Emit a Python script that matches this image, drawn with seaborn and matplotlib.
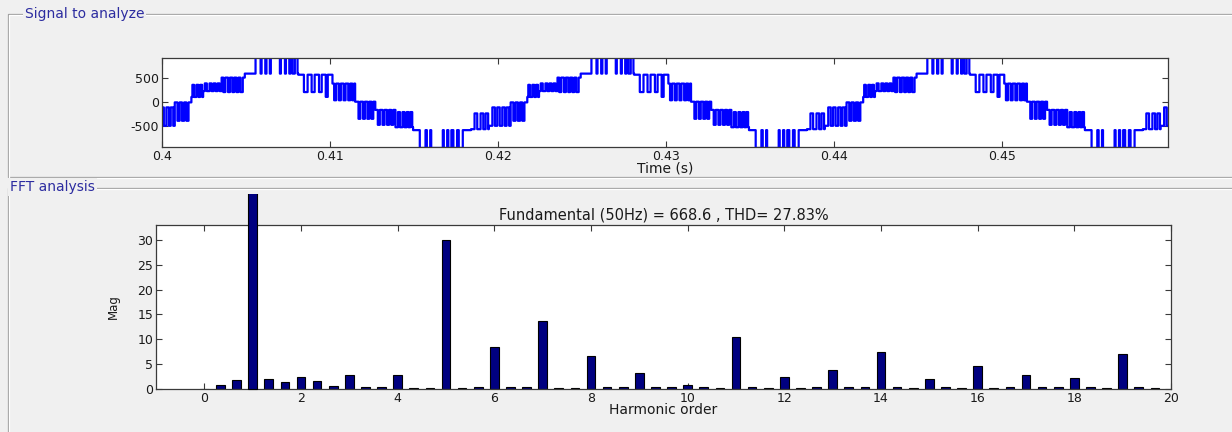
import numpy as np
import pandas as pd
import matplotlib
matplotlib.use("Agg")
import matplotlib.pyplot as plt
import seaborn as sns
from matplotlib.lines import Line2D
from matplotlib.transforms import Bbox, TransformedBbox

# ---------------------------------------------------------------------------
# Inverter output voltage: one period, times in ms from the rising zero crossing
# ---------------------------------------------------------------------------
seg_start = [0.0, 0.50, 1.60, 2.98, 6.16, 8.20, 9.55, 10.75, 11.95, 13.00, 16.45, 17.51, 18.81, 19.80]
seg_base = [98, 220, 500, 583, 560, 376, 0, -170, -530, -590, -570, -500, -14, 98]

# switching pulses: start (ms), width (ms), level (V)
pulse_start = [0.10, 0.32,
               0.60, 0.88, 1.12, 1.36,
               1.70, 1.98, 2.24, 2.48, 2.72,
               3.62, 3.98, 4.27, 4.53, 5.13, 5.43, 5.70, 5.96,
               6.50, 6.96, 7.40, 7.80,
               8.30, 8.58, 8.86, 9.14, 9.38,
               9.75, 10.02, 10.28, 10.52,
               10.90, 11.18, 11.45, 11.70,
               12.10, 12.37, 12.62, 12.84,
               13.40, 13.82, 14.08, 14.83, 15.10, 15.40, 15.72,
               16.66, 17.02, 17.32,
               17.72, 18.01, 18.31, 18.57,
               18.97, 19.24, 19.50,
               19.86]
pulse_width = [0.12, 0.12,
               0.12, 0.12, 0.12, 0.12,
               0.12, 0.12, 0.11, 0.12, 0.14,
               0.30, 0.22, 0.20, 0.54, 0.24, 0.20, 0.12, 0.16,
               0.22, 0.18, 0.16, 0.12,
               0.12, 0.12, 0.12, 0.12, 0.11,
               0.11, 0.11, 0.11, 0.11,
               0.12, 0.12, 0.12, 0.12,
               0.12, 0.12, 0.11, 0.11,
               0.34, 0.20, 0.69, 0.20, 0.18, 0.22, 0.24,
               0.16, 0.16, 0.15,
               0.15, 0.15, 0.15, 0.15,
               0.13, 0.13, 0.13,
               0.10]
pulse_level = [350, 350,
               380, 380, 380, 380,
               200, 200, 200, 200, 200,
               930, 930, 930, 930, 930, 930, 930, 930,
               200, 200, 200, 100,
               30, 30, 30, 30, 30,
               -355, -355, -355, -355,
               -480, -480, -480, -480,
               -215, -215, -215, -215,
               -960, -960, -960, -960, -960, -960, -960,
               -243, -243, -243,
               -118, -118, -118, -118,
               -396, -396, -396,
               350]

cycle_starts = [0.38195, 0.40195, 0.42195, 0.44195]   # s
time_ticks = [0.40, 0.41, 0.42, 0.43, 0.44, 0.45]
volt_ticks = [-500, 0, 500]

# ---------------------------------------------------------------------------
# FFT: magnitude (% of fundamental) at harmonic orders 0, 1/3, 2/3, ...
# ---------------------------------------------------------------------------
fft_mag = [0.1, 0.9, 1.75, 100.0, 2.0, 1.5, 2.35, 1.6, 0.6, 2.75,
           0.35, 0.35, 2.9, 0.3, 0.15, 30.0, 0.3, 0.45, 8.5, 0.45,
           0.35, 13.6, 0.3, 0.15, 6.6, 0.35, 0.45, 3.15, 0.35, 0.45,
           0.8, 0.45, 0.15, 10.4, 0.35, 0.15, 2.35, 0.15, 0.45, 3.75,
           0.35, 0.45, 7.45, 0.45, 0.15, 1.95, 0.45, 0.15, 4.6, 0.15,
           0.45, 2.9, 0.35, 0.45, 2.15, 0.45, 0.15, 7.1, 0.45, 0.15]
harmonic_order = np.arange(len(fft_mag)) / 3.0
order_ticks = list(range(0, 21, 2))
mag_ticks = [0, 5, 10, 15, 20, 25, 30]
fundamental_hz = 50
fundamental_mag = 668.6
thd_pct = 27.83

# ---------------------------------------------------------------------------
# build the step waveform
# ---------------------------------------------------------------------------
def base_at(ms):
    idx = np.searchsorted(seg_start, ms, side="right") - 1
    return seg_base[idx]

events = [(s, b) for s, b in zip(seg_start, seg_base)]
for s, w, lv in zip(pulse_start, pulse_width, pulse_level):
    events.append((s, lv))
    events.append((s + w, base_at(s)))
events.sort(key=lambda e: e[0])

t_all, v_all = [], []
for c in cycle_starts:
    for ms, v in events:
        t_all.append(c + ms / 1000.0)
        v_all.append(v)
t_all.append(cycle_starts[-1] + 0.02)
v_all.append(seg_base[0])
sig = pd.DataFrame({"t": t_all, "v": v_all})
fft = pd.DataFrame({"order": harmonic_order, "mag": fft_mag})

# ---------------------------------------------------------------------------
# styling
# ---------------------------------------------------------------------------
sns.set_theme(style="ticks")
BG = "#F0F0F0"
plt.rcParams.update({
    "font.family": ["DejaVu Sans"],
    "axes.unicode_minus": False,
    "axes.edgecolor": "#3a3a3a",
    "axes.linewidth": 0.9,
    "xtick.direction": "in",
    "ytick.direction": "in",
    "xtick.color": "#3a3a3a",
    "ytick.color": "#3a3a3a",
    "xtick.labelcolor": "#1a1a1a",
    "ytick.labelcolor": "#1a1a1a",
    "xtick.labelsize": 9,
    "ytick.labelsize": 9,
    "axes.labelsize": 10,
    "axes.labelcolor": "#1a1a1a",
    "figure.facecolor": BG,
})

W, H = 1232, 432
fig = plt.figure(figsize=(W / 100, H / 100), dpi=100)


def fx(px):
    return px / W


def fy(py):
    return 1 - py / H


def axes_px(left, top, right, bottom):
    return fig.add_axes([fx(left), fy(bottom), fx(right - left), (bottom - top) / H])


# ---- group box frames -----------------------------------------------------
def etched(xs, ys):
    fig.add_artist(Line2D([fx(x) for x in xs], [fy(y) for y in ys],
                          color="#a0a0a0", lw=0.9))
    fig.add_artist(Line2D([fx(x + 1) for x in xs], [fy(y + 1) for y in ys],
                          color="white", lw=0.9))

etched([1240, 8, 8, 1240], [14, 14, 177, 177])
etched([1240, 8, 8], [188, 188, 440])

label_kw = dict(fontsize=10, color="#2c2ca0", va="center", ha="left",
                bbox=dict(boxstyle="square,pad=0.12", fc=BG, ec="none"))
fig.text(fx(25), fy(14), "Signal to analyze", **label_kw)
fig.text(fx(10), fy(187), "FFT analysis", **label_kw)

# ---- signal axes ----------------------------------------------------------
ax1 = axes_px(162, 58, 1168, 147)
ax1.set_facecolor("white")
sns.lineplot(data=sig, x="t", y="v", estimator=None, sort=False,
             drawstyle="steps-post", color="#0000FF", lw=1.6, ax=ax1)
ax1.set_xlim(0.4, 0.4599)
ax1.set_ylim(-940, 907)
ax1.set_xticks(time_ticks)
ax1.set_xticklabels([f"{v:g}" for v in time_ticks])
ax1.set_yticks(volt_ticks)
ax1.set_yticklabels([str(v) for v in volt_ticks])
ax1.tick_params(top=True, right=True, length=4, width=0.8, pad=2)
ax1.set_xlabel("Time (s)", labelpad=-1)
ax1.set_ylabel("")
for s in ax1.spines.values():
    s.set_visible(True)

# ---- FFT axes -------------------------------------------------------------
ax2 = axes_px(156, 225, 1171, 389)
ax2.set_facecolor("white")
sns.barplot(data=fft, x="order", y="mag", native_scale=True, width=0.54,
            color="#000080", saturation=1, edgecolor="black", linewidth=0.8,
            errorbar=None, ax=ax2)
ax2.set_xlim(-1, 20)
ax2.set_ylim(0, 33)
ax2.set_xticks(order_ticks)
ax2.set_xticklabels([str(v) for v in order_ticks])
ax2.set_yticks(mag_ticks)
ax2.set_yticklabels([str(v) for v in mag_ticks])
ax2.tick_params(top=True, right=True, length=4, width=0.8, pad=2)
ax2.set_xlabel("Harmonic order", labelpad=-1)
ax2.set_ylabel("Mag", fontsize=8.5)
ax2.yaxis.set_label_coords(-0.036, 0.5)
ax2.set_title(f"Fundamental ({fundamental_hz}Hz) = {fundamental_mag} , THD= {thd_pct}%",
              fontsize=10.5, pad=4, color="#1a1a1a")
for s in ax2.spines.values():
    s.set_visible(True)

# the fundamental bar runs past the plot box up to the group-box edge
top_clip = TransformedBbox(Bbox.from_extents(0, 0, 1, fy(194)), fig.transFigure)
tallest = max(ax2.patches, key=lambda p: p.get_height())
tallest.set_clip_path(None)
tallest.set_clip_box(top_clip)
tallest.set_zorder(5)

fig.savefig("out.png", dpi=100, facecolor=BG)
